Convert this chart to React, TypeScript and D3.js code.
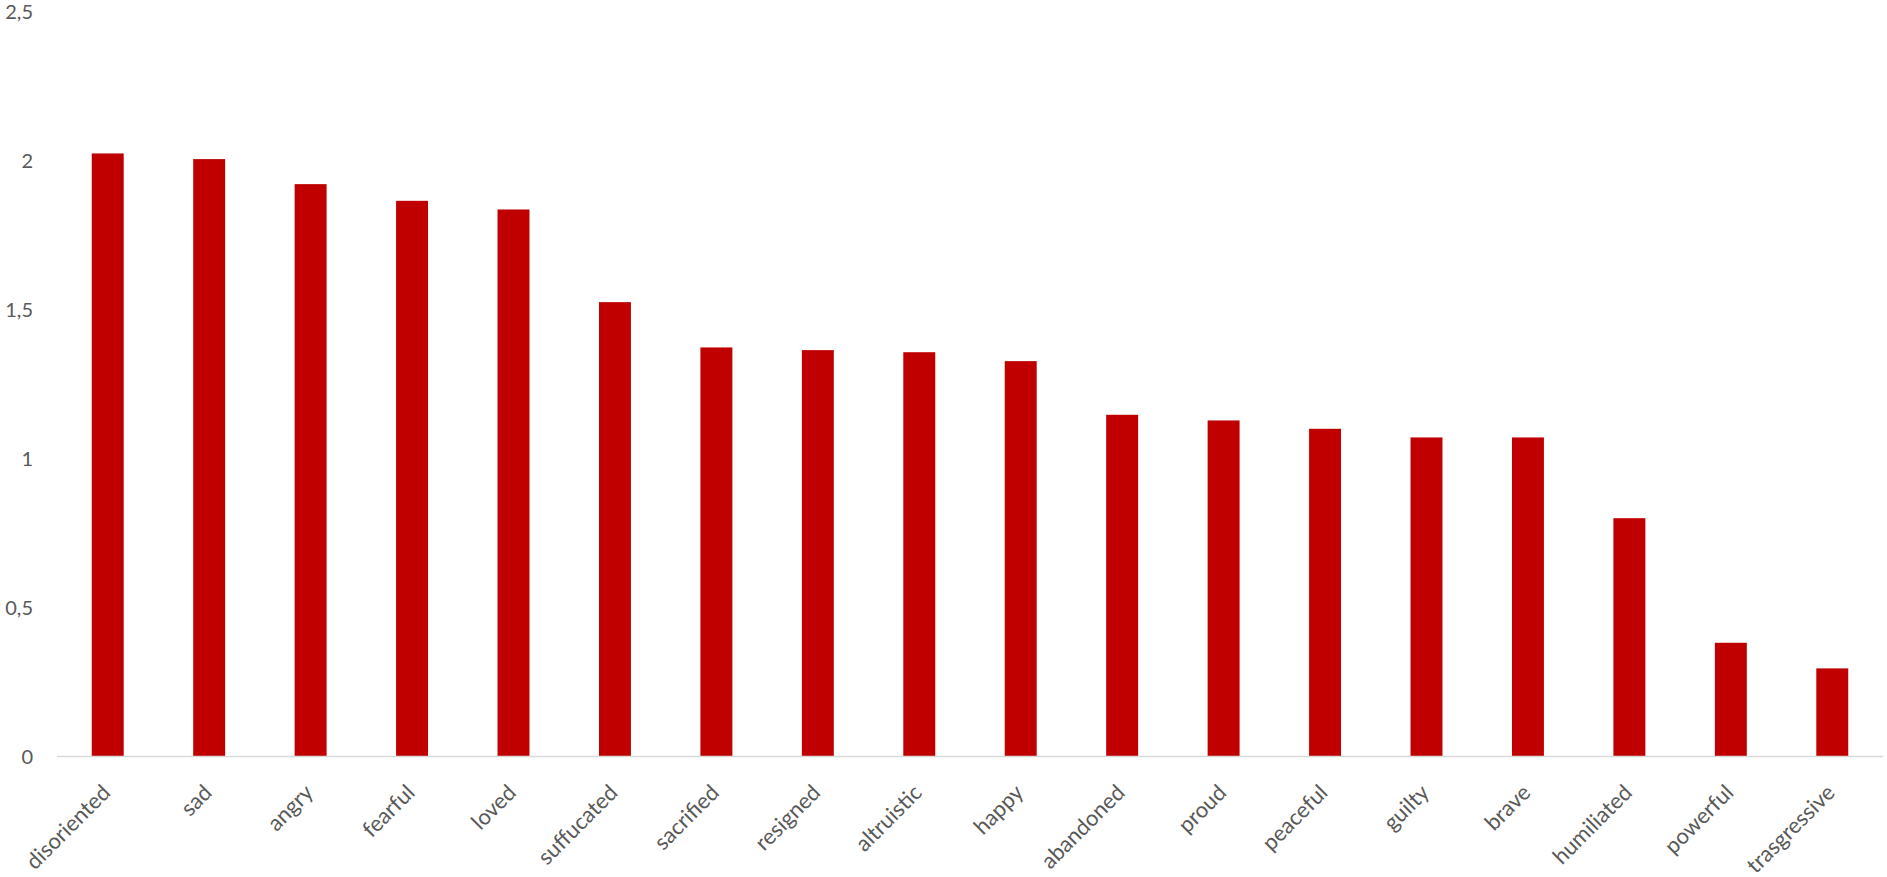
import React from "react";
import * as d3 from "d3";

const categories = [
  "disoriented", "sad", "angry", "fearful", "loved", "suffucated", "sacrified", "resigned", "altruistic",
  "happy", "abandoned", "proud", "peaceful", "guilty", "brave", "humiliated", "powerful", "trasgressive",
];
const values = [
  2.022, 2.003, 1.919, 1.863, 1.834, 1.523, 1.371, 1.362, 1.355,
  1.325, 1.145, 1.126, 1.098, 1.069, 1.069, 0.798, 0.380, 0.294,
];
const yTicks = [0, 0.5, 1, 1.5, 2, 2.5];
const yTickLabels = ["0", "0,5", "1", "1,5", "2", "2,5"];

const W = 1887;
const H = 877;
const plotLeft = 57;
const plotRight = 1883;
const plotTop = 11;
const plotBottom = 756;
const FONT = "Lato, 'Noto Sans', sans-serif";
const TEXT = "#595959";

export default function App() {
  const x = d3
    .scaleBand<string>()
    .domain(categories)
    .range([plotLeft, plotRight])
    .paddingInner(0.685)
    .paddingOuter(0.3425);
  const y = d3.scaleLinear().domain([0, 2.5]).range([plotBottom, plotTop]);

  return (
    <div style={{ position: "absolute", left: 0, top: 0 }}>
      <svg width={W} height={H} style={{ display: "block", background: "#fff" }}>
        <rect x={0} y={0} width={W} height={H} fill="#fff" />
        {categories.map((c, i) => (
          <rect
            key={c}
            x={x(c)}
            y={y(values[i])}
            width={x.bandwidth()}
            height={y(0) - y(values[i])}
            fill="#c00000"
          />
        ))}
        <line x1={plotLeft} x2={plotRight} y1={y(0) + 0.5} y2={y(0) + 0.5} stroke="#d9d9d9" strokeWidth={1.5} />
        {yTicks.map((t, i) => (
          <text
            key={t}
            x={33}
            y={y(t) + 7.5}
            textAnchor="end"
            fontFamily={FONT}
            fontSize={20}
            fill={TEXT}
          >
            {yTickLabels[i]}
          </text>
        ))}
        {categories.map((c) => {
          const cx = (x(c) as number) + x.bandwidth() / 2 + 4;
          const cy = plotBottom + 38;
          return (
            <text
              key={c}
              transform={`translate(${cx},${cy}) rotate(-45)`}
              textAnchor="end"
              fontFamily={FONT}
              fontSize={22}
              fill={TEXT}
            >
              {c}
            </text>
          );
        })}
      </svg>
    </div>
  );
}
